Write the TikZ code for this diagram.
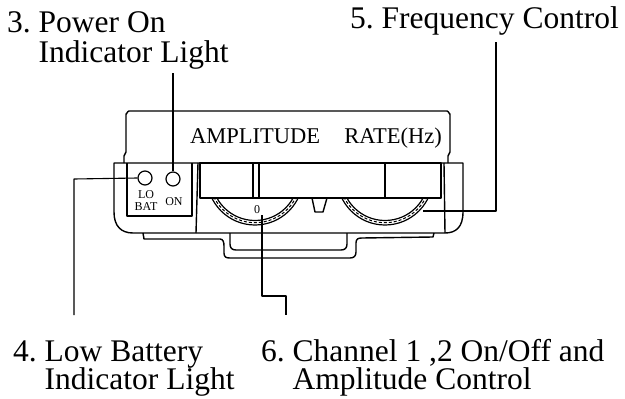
\documentclass[tikz,border=0pt]{standalone}
\usepackage{fontspec}
\setmainfont{Liberation Serif}
\usetikzlibrary{positioning}
\frenchspacing

\begin{document}
\begin{tikzpicture}[
                x=1pt,y=-1pt,
                line join=round,
                lbl/.style={anchor=base west,inner sep=0pt,font=\fontsize{31.5}{28}\selectfont},
                panel/.style={inner sep=0pt,font=\fontsize{22.5}{22}\selectfont},
                tiny/.style={inner sep=0pt,font=\fontsize{12}{12}\selectfont},
                led/.style={circle,draw,line width=1.2pt,minimum size=14pt,inner sep=0pt},
                case/.style={line width=1.4pt},
                leader/.style={line width=1.1pt}
            ]
                \useasboundingbox (0,0) rectangle (625,399);
                % labels
                \node (pwr)  [lbl] at (7,32)   {\begin{tabular}[t]{@{}l@{}l@{}}3.\kern.25em&Power On\\&Indicator Light\end{tabular}};
                \node (freq) [lbl] at (350,28) {5. Frequency Control};
                \node (bat)  [lbl] at (13,361) {\begin{tabular}[t]{@{}l@{}l@{}}4.\kern.25em&Low Battery\\[-1.5pt]&Indicator Light\end{tabular}};
                \node (chan) [lbl] at (261,361) {\begin{tabular}[t]{@{}l@{}l@{}}6.\kern.25em&Channel 1 ,2 On/Off and\\[-1.5pt]&Amplitude Control\end{tabular}};
                % lid
                \draw[case] (124,163) -- (124,156) -- (126,152) -- (126,114) to[out=-90,in=180] (129,111)
                    -- (447,111) to[out=0,in=-90] (450,114) -- (450,152) -- (448,156) -- (448,163);
                \node (amp)  [panel,anchor=base west] at (190,143) {AMPLITUDE};
                \node (rate) [panel,anchor=base east] at (442,143) {RATE(Hz)};
                % body
                \draw[case] (114,163) -- (463,163) -- (463,212) .. controls (463,227) and (456,233) .. (445,233)
                    -- (133,233) .. controls (121,233) and (114,226) .. (114,212) -- cycle;
                \draw[case] (127,163) -- (127,216) -- (192,216) -- (192,163);
                \draw[case] (198,163) -- (196,233);
                \draw[case] (444,163) -- (445,233);
                \draw[case] (200,163) rectangle (441,198);
                \draw[case] (253,163) -- (253,198) (259,163) -- (259,198);
                \draw[case] (385,163) -- (385,198);
                \draw[case] (312,198) -- (315,212) -- (323,212) -- (327,198);
                % knobs
                \begin{scope}
                    \clip (200,198) rectangle (441,233);
                    \foreach \cx in {255,385} {
                        \draw[line width=1.2pt] (\cx,177) circle[radius=48];
                        \draw[line width=1.2pt] (\cx,177) circle[radius=43.5];
                        \draw[line width=1pt,dash pattern=on 3pt off 2pt] (\cx,177) circle[radius=45.7];
                    }
                \end{scope}
                \node (zero) [tiny,anchor=base] at (257,213) {0};
                % stand
                \draw[case] (143,233) -- (144,239) -- (220,239) .. controls (223,239) and (224,242) .. (224,246)
                    -- (224,253) .. controls (224,257) and (226,258) .. (230,258) -- (350,258)
                    .. controls (354,258) and (356,256) .. (356,252) -- (356,243) .. controls (356,239) and (358,238) .. (362,238)
                    -- (433,237) -- (434,233);
                \draw[case] (230,233) -- (230,244) .. controls (230,248) and (232,250) .. (236,250) -- (341,250)
                    .. controls (345,250) and (347,248) .. (347,244) -- (347,233);
                % indicator lights
                \node (lo) [led] at (145,178) {};
                \node (on) [led] at (173,179) {};
                \node (lotxt)  [tiny,anchor=base] at (146,198) {LO};
                \node (battxt) [tiny,anchor=base] at (146,210) {BAT};
                \node (ontxt)  [tiny,anchor=base] at (174,205) {ON};
                % leaders
                \coordinate (pwrtop)  at (173,73);
                \coordinate (battop)  at (74,315);
                \coordinate (freqtop) at (496,42);
                \coordinate (freqend) at (423,211);
                \coordinate (chanend) at (262,215);
                \coordinate (chanbot) at (286,315);
                \draw[leader] (pwrtop) -- (on.north);
                \draw[leader] (battop) -- (74,179) -- (lo.west);
                \draw[leader] (freqtop) -- (496,211) -- (freqend);
                \draw[leader] (chanend) -- (262,296) -- (286,296) -- (chanbot);
            \end{tikzpicture}
\end{document}
